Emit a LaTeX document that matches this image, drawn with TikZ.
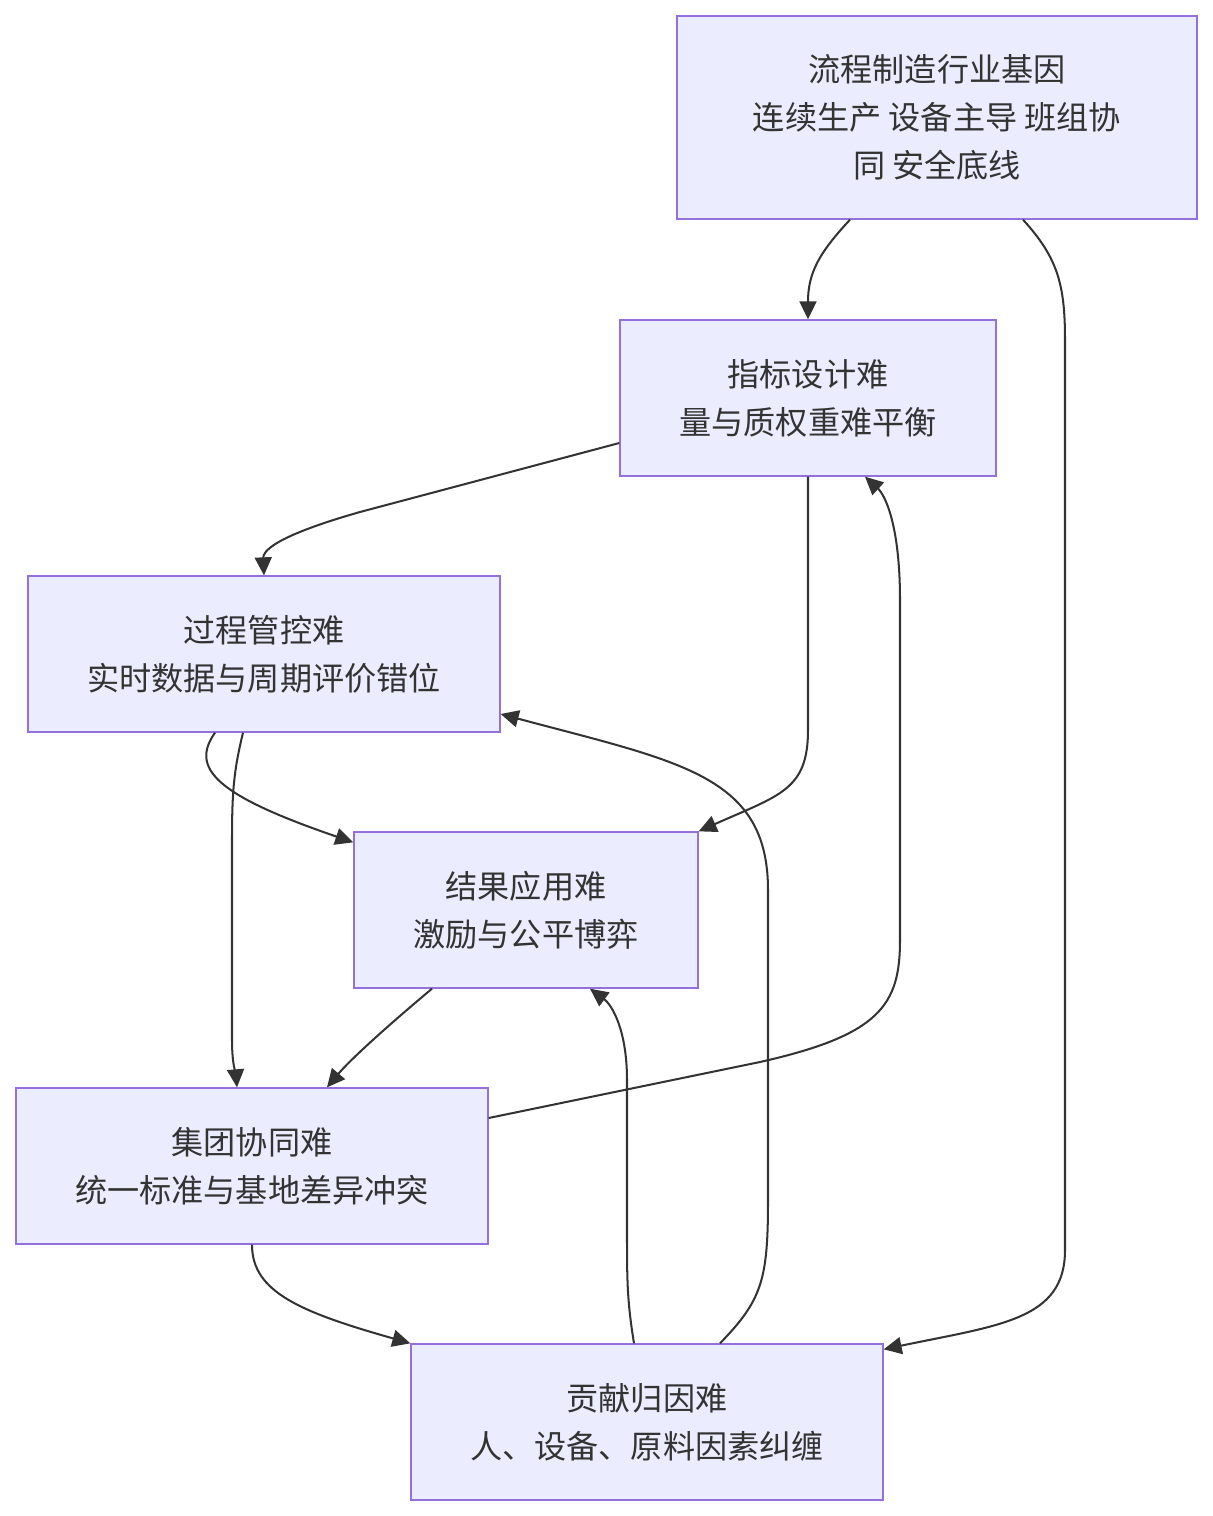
\documentclass[tikz,border=0pt]{standalone}
\usepackage{fontspec}
\setmainfont{Noto Sans CJK SC}
\usepackage{xcolor}
\usepackage{tikz}
\usetikzlibrary{arrows.meta,calc}
\definecolor{nodefill}{HTML}{ECECFF}
\definecolor{nodeline}{HTML}{9370DB}
\definecolor{ink}{HTML}{333333}

\begin{document}
\begin{tikzpicture}[
  x=0.02cm,y=-0.02cm,
  font=\fontsize{18.3}{27.2}\selectfont,
  box/.style={draw=nodeline,fill=nodefill,line width=0.8pt,align=center,text=ink,inner sep=0pt,minimum height=3.12cm},
  flow/.style={-{Triangle[length=0.36cm,width=0.34cm]},draw=ink,line width=1.15pt},
]
\useasboundingbox (0,0) rectangle (1213,1516);

% --- nodes
\node[box,minimum width=10.4cm,minimum height=4.06cm] (gene) at (937,117.5)
  {流程制造行业基因\\连续生产 设备主导 班组协\\同 安全底线};
\node[box,minimum width=7.52cm] (metric) at (808,398) {指标设计难\\量与质权重难平衡};
\node[box,minimum width=9.44cm] (process) at (264,654) {过程管控难\\实时数据与周期评价错位};
\node[box,minimum width=6.88cm] (result) at (526,910) {结果应用难\\激励与公平博弈};
\node[box,minimum width=9.44cm] (group) at (252,1166) {集团协同难\\统一标准与基地差异冲突};
\node[box,minimum width=9.44cm] (credit) at (647,1422) {贡献归因难\\人、设备、原料因素纠缠};

% --- connectors
\draw[flow] ($(gene.south)+(-87,0)$) .. controls (820,252) and (808,272) .. (metric.north);
\draw[flow] ($(gene.south)+(86,0)$) .. controls (1058,258) and (1065,285) .. (1065,340)
  -- (1065,1250) .. controls (1065,1320) and (1000,1325) .. ($(credit.north east)+(0,6)$);
\draw[flow] ($(metric.west)+(0,45)$) -- (360,512) .. controls (272,537) and (263,552) .. (process.north);
\draw[flow] (metric.south) -- (808,730) .. controls (808,790) and (780,795) .. ($(result.north east)+(0,0)$);
\draw[flow] ($(process.south)+(-49,0)$) .. controls (190,768) and (215,795) .. ($(result.north west)+(0,11)$);
\draw[flow] ($(process.south)+(-21,0)$) .. controls (234,770) and (232,790) .. (232,840)
  -- (232,1040) .. controls (232,1065) and (236,1075) .. ($(group.north)+(-15,0)$);
\draw[flow] ($(result.south)+(-94,0)$) .. controls (385,1028) and (350,1060) .. ($(group.north)+(75,0)$);
\draw[flow] ($(group.east)+(0,-48)$) -- (760,1062) .. controls (880,1035) and (900,1005) .. (900,940)
  -- (900,600) .. controls (900,525) and (885,495) .. ($(metric.south)+(57,0)$);
\draw[flow] (group.south) .. controls (252,1292) and (300,1312) .. (credit.north west);
\draw[flow] ($(credit.north)+(-13,0)$) .. controls (627,1300) and (627,1280) .. (627,1230)
  -- (627,1080) .. controls (627,1030) and (612,1005) .. ($(result.south)+(64,0)$);
\draw[flow] ($(credit.north)+(73,0)$) .. controls (762,1300) and (768,1280) .. (768,1200)
  -- (768,890) .. controls (768,775) and (680,762) .. ($(process.east)+(0,60)$);
\end{tikzpicture}
\end{document}
